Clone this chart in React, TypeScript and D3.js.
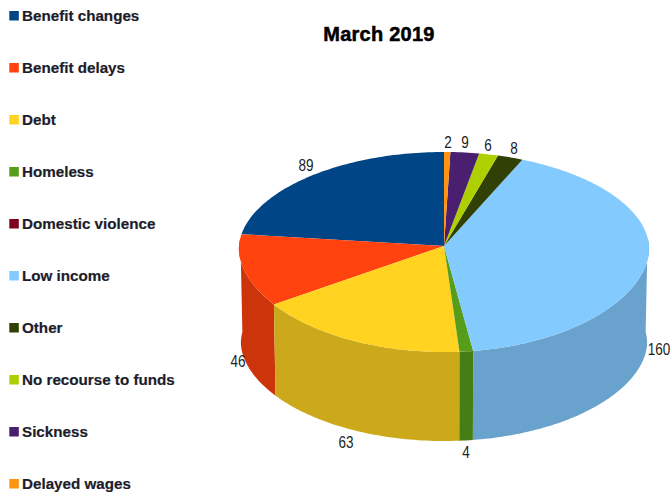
import React from "react";
import * as d3 from "d3";

const categories = [
  "Benefit changes",
  "Benefit delays",
  "Debt",
  "Homeless",
  "Domestic violence",
  "Low income",
  "Other",
  "No recourse to funds",
  "Sickness",
  "Delayed wages",
];
const values = [89, 46, 63, 4, 0, 160, 8, 6, 9, 2];
const colors = [
  "#004586", "#ff420e", "#ffd320", "#579d1c", "#7e0021",
  "#83caff", "#314004", "#aecf00", "#4b1f6f", "#ff950e",
];

const W = 672;
const H = 492;

// Perspective model: the far half of each ellipse is flatter than the near half,
// and the near side is drawn slightly wider than the far side.
const topFace = { cx: 444, cy: 246, rx: 205, ryFar: 94, ryNear: 106 };
const baseFace = { cx: 444, cy: 340, rx: 203, ryFar: 94, ryNear: 101 };
const widen = 0.035;
const nearPower = 1.1;

type Face = typeof topFace;
const project = (f: Face, a: number): [number, number] => {
  const c = Math.cos(a);
  const dy = c > 0 ? f.ryFar * c : -f.ryNear * Math.pow(-c, nearPower);
  return [f.cx + f.rx * Math.sin(a) * (1 - widen * c), f.cy - dy];
};

const samples = (a0: number, a1: number) => {
  const n = Math.max(2, Math.ceil(Math.abs(a1 - a0) / 0.02));
  return d3.range(n + 1).map((i) => a0 + ((a1 - a0) * i) / n);
};

const line = d3.line();
const pie = d3
  .pie<number>()
  .sort(null)
  .startAngle(0)
  .endAngle(-2 * Math.PI);
const slices = pie(values);

// The wall only shows along the near part of the rim; the top face hides the rest.
const wallPath = (a0: number, a1: number) => {
  const angles = samples(a0, a1).filter((a) => Math.cos(a) <= 0.1);
  if (angles.length < 2) return null;
  const up = angles.map((a) => project(topFace, a));
  const down = angles.map((a) => project(baseFace, a)).reverse();
  return line([...up, ...down]) + "Z";
};

const facePath = (a0: number, a1: number) =>
  line([[topFace.cx, topFace.cy], ...samples(a0, a1).map((a) => project(topFace, a))]) + "Z";

// Value label anchors (baseline centre), indexed into the series.
const valueLabels: { i: number; x: number; y: number }[] = [
  { i: 0, x: 306, y: 171 },
  { i: 1, x: 238, y: 367 },
  { i: 2, x: 346, y: 448 },
  { i: 3, x: 466, y: 458 },
  { i: 5, x: 659, y: 355 },
  { i: 6, x: 514, y: 154 },
  { i: 7, x: 488, y: 151 },
  { i: 8, x: 465, y: 148 },
  { i: 9, x: 448, y: 148 },
];

const legendY = d3.scalePoint<string>().domain(categories).range([16, 484]);
const sans = "'Liberation Sans', Arial, sans-serif";

export default function App() {
  return (
    <svg
      width={W}
      height={H}
      viewBox={`0 0 ${W} ${H}`}
      style={{ position: "fixed", left: 0, top: 0, background: "#fff" }}
      fontFamily={sans}
    >
      <g>
        {slices.map((s, i) => {
          const d = wallPath(s.startAngle, s.endAngle);
          return d && s.value > 0 ? (
            <path key={i} d={d} fill={d3.color(colors[i])!.darker(0.62).formatHex()} />
          ) : null;
        })}
        {slices.map((s, i) =>
          s.value > 0 ? (
            <path key={i} d={facePath(s.startAngle, s.endAngle)} fill={colors[i]} />
          ) : null
        )}
      </g>
      {valueLabels.map(({ i, x, y }) => (
        <text
          key={i}
          transform={`translate(${x},${y}) scale(0.82,1)`}
          textAnchor="middle"
          fontSize={16.5}
          fill="#222"
        >
          {values[i]}
        </text>
      ))}
      <text
        x={379}
        y={41}
        textAnchor="middle"
        fontSize={20}
        fontWeight={700}
        letterSpacing={0.25}
        fill="#000"
        stroke="#000"
        strokeWidth={0.5}
      >
        March 2019
      </text>
      {categories.map((c, i) => {
        const y = legendY(c)!;
        return (
          <g key={c}>
            <rect x={9.3} y={y - 5} width={9.5} height={9.5} fill={colors[i]} />
            <text
              x={22}
              y={y + 5}
              fontSize={15.2}
              fontWeight={700}
              fill="#1c1c2a"
              stroke="#1c1c2a"
              strokeWidth={0.2}
            >
              {c}
            </text>
          </g>
        );
      })}
    </svg>
  );
}
